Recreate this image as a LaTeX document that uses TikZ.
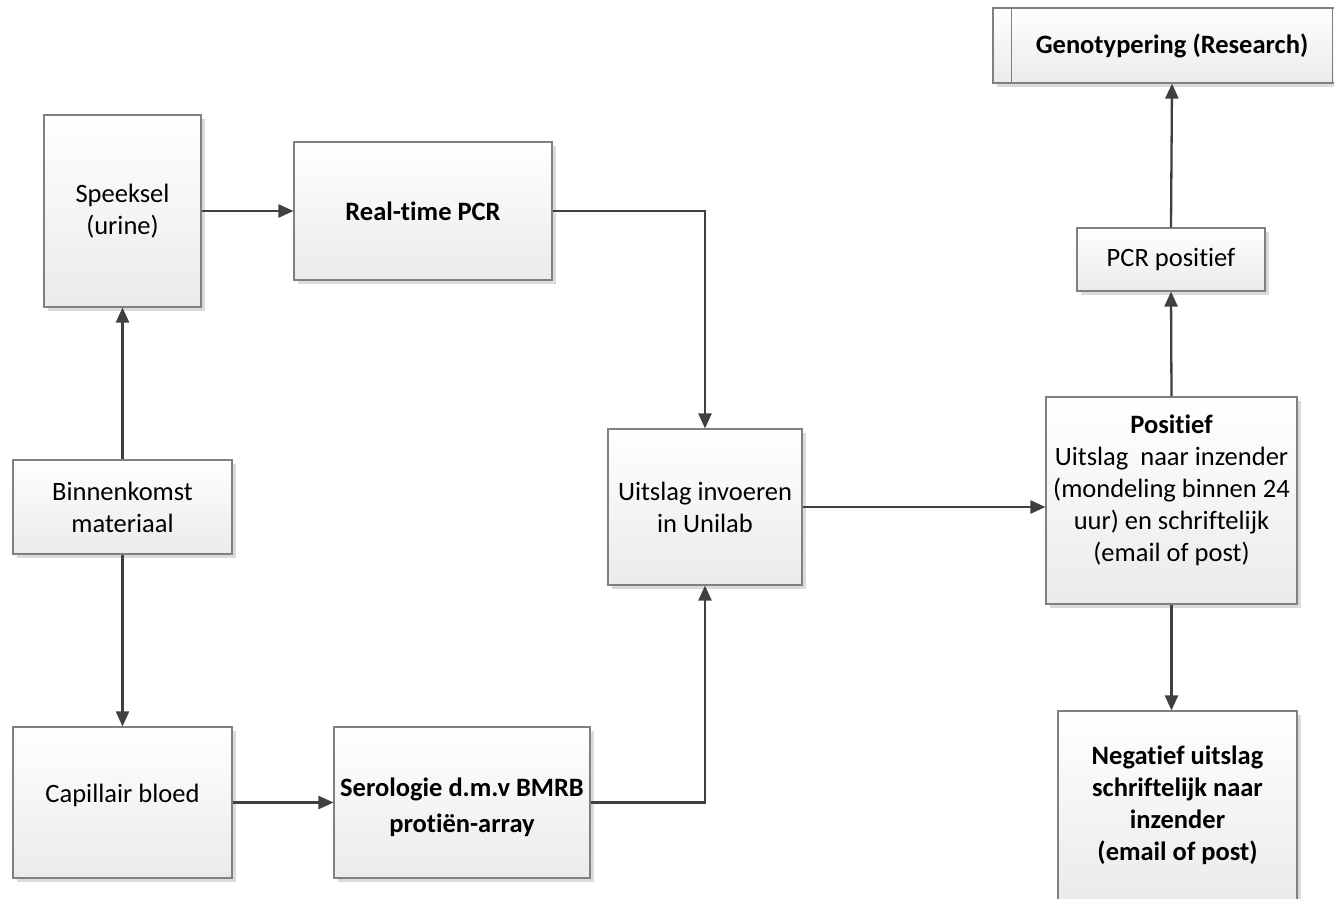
\documentclass[tikz,border=0pt]{standalone}
\usepackage{fontspec}
\setmainfont[RawFeature=-liga]{Carlito}
\usetikzlibrary{arrows.meta,shadows}
\tikzset{
  boxnode/.style={draw=black!50, line width=1.1pt, top color=white, bottom color=black!8,
    inner sep=0pt, align=center, font=\fontsize{26.5}{32}\selectfont,
    drop shadow={shadow xshift=3.5pt, shadow yshift=-3.5pt, fill=black!14, opacity=1}},
  txtnode/.style={inner sep=0pt, align=center, font=\fontsize{26.5}{32}\selectfont},
  conn/.style={draw=black!75, line width=2.3pt, -{Triangle[length=15pt,width=13pt]}}
}
\begin{document}
\begin{tikzpicture}[x=1pt,y=-1pt]
\useasboundingbox (0,0) rectangle (1334,898);
\fill[white] (0,0) rectangle (1334,898);

\node[boxnode, minimum width=157pt, minimum height=192pt] (speeksel) at (122.5,211) {Speeksel\\(urine)};
\node[boxnode, minimum width=258pt, minimum height=138pt] (pcr) at (423,211) {\textbf{Real-time PCR}};
\node[boxnode, minimum width=219pt, minimum height=94pt] (binnen) at (122.5,507) {Binnenkomst\\materiaal};
\node[boxnode, minimum width=219pt, minimum height=151pt] (cap) at (122.5,802.5) {};
\node[txtnode] (capT) at (122.5,795) {Capillair bloed};
\node[boxnode, minimum width=256pt, minimum height=151pt] (sero) at (462,802.5) {};
\node[txtnode, font=\fontsize{26.5}{36}\selectfont] (seroT) at (462,807.5) {\textbf{Serologie d.m.v BMRB}\\\textbf{protiën-array}};
\node[boxnode, minimum width=194pt, minimum height=156pt] (uit) at (705,507) {Uitslag invoeren\\in Unilab};
\node[boxnode, minimum width=251pt, minimum height=207pt] (pos) at (1171.5,500.5) {};
\node[txtnode] (posT) at (1171.5,490) {\textbf{Positief}\\Uitslag\ \ naar inzender\\(mondeling binnen 24\\uur) en schriftelijk\\(email of post)};
\node[boxnode, minimum width=188pt, minimum height=63pt] (pcrpos) at (1171,259.5) {PCR positief};
\node[boxnode, minimum width=358pt, minimum height=75pt] (geno) at (1172,45.5) {\textbf{Genotypering (Research)}};
\draw[draw=black!50, line width=1.1pt] ([xshift=19pt]geno.north west) -- ([xshift=19pt]geno.south west);
\draw[draw=black!50, line width=1.1pt] ([xshift=-19pt]geno.north east) -- ([xshift=-19pt]geno.south east);
\node[boxnode, minimum width=239pt, minimum height=189pt] (neg) at (1177.5,805.5) {\textbf{Negatief uitslag}\\\textbf{schriftelijk naar}\\\textbf{inzender}\\\textbf{(email of post)}};

\draw[conn] (binnen.north) -- (speeksel.south);
\draw[conn] (binnen.south) -- (cap.north);
\draw[conn] (speeksel.east) -- (pcr.west);
\draw[conn] (pcr.east) -| (uit.north);
\draw[conn] (cap.east) -- (sero.west);
\draw[conn] (sero.east) -| (uit.south);
\draw[conn] (uit.east) -- (uit.east -| pos.west);
\draw[conn] (pos.north) -- (pcrpos.south);
\draw[conn] (pcrpos.north) -- (geno.south);
\draw[conn] (pos.south) -- (pos.south |- neg.north);
\end{tikzpicture}
\end{document}
